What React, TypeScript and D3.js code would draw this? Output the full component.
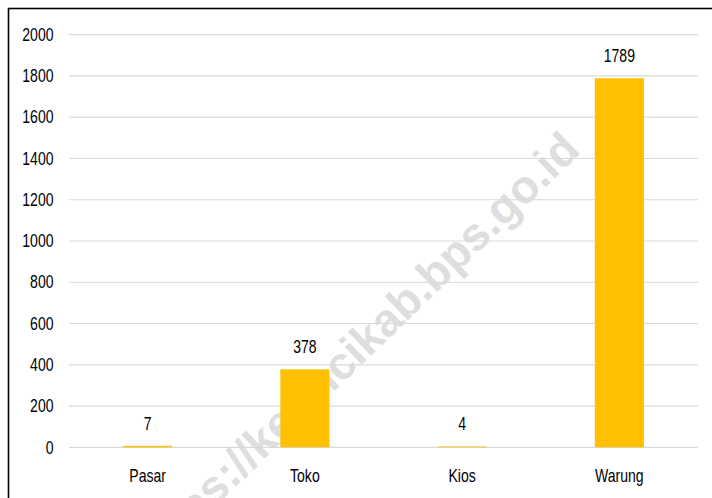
import React from "react";
import * as d3 from "d3";

const categories = ["Pasar", "Toko", "Kios", "Warung"];
const values = [7, 378, 4, 1789];
const yTicks = [0, 200, 400, 600, 800, 1000, 1200, 1400, 1600, 1800, 2000];
const watermark = "https://kerincikab.bps.go.id";

const W = 712;
const H = 498;
const plotLeft = 69;
const plotRight = 698;
const yTop = 34.7;
const yBottom = 447.3;
const FONT = "'Liberation Sans', Arial, sans-serif";
const FS = 18;
const SX = 0.78;

function Label({ x, y, text, anchor }: { x: number; y: number; text: string; anchor: string }) {
  return (
    <text
      transform={`translate(${x},${y}) scale(${SX},1)`}
      textAnchor={anchor}
      fontFamily={FONT}
      fontSize={FS}
      fill="#000"
    >
      {text}
    </text>
  );
}

export default function App() {
  const x = d3.scaleBand<string>().domain(categories).range([plotLeft, plotRight]).padding(0);
  const y = d3.scaleLinear().domain([0, 2000]).range([yBottom, yTop]);
  const barW = x.bandwidth() * 0.312;

  return (
    <svg
      width={W}
      height={H}
      style={{ position: "absolute", left: 0, top: 0, background: "#fff" }}
    >
      <rect x={0} y={0} width={W} height={H} fill="#fff" />
      <text
        transform="translate(582,152) rotate(-44)"
        textAnchor="end"
        fontFamily={FONT}
        fontWeight="bold"
        fontSize={46}
        fill="#dedede"
      >
        {watermark}
      </text>
      {yTicks.map((t) => (
        <g key={t}>
          <line x1={plotLeft} x2={plotRight} y1={y(t)} y2={y(t)} stroke="#d9d9d9" strokeWidth={1.2} />
          <Label x={53.5} y={y(t) + 6.2} text={String(t)} anchor="end" />
        </g>
      ))}
      {categories.map((c, i) => {
        const cx = (x(c) as number) + x.bandwidth() / 2;
        return (
          <g key={c}>
            <rect
              x={cx - barW / 2}
              y={y(values[i])}
              width={barW}
              height={yBottom - y(values[i])}
              fill="#FFC000"
            />
            <Label x={cx} y={y(values[i]) - 16} text={String(values[i])} anchor="middle" />
            <Label x={cx} y={481.5} text={c} anchor="middle" />
          </g>
        );
      })}
      <rect x={8.5} y={8.5} width={W} height={H} fill="none" stroke="#000" strokeWidth={1.6} />
    </svg>
  );
}
